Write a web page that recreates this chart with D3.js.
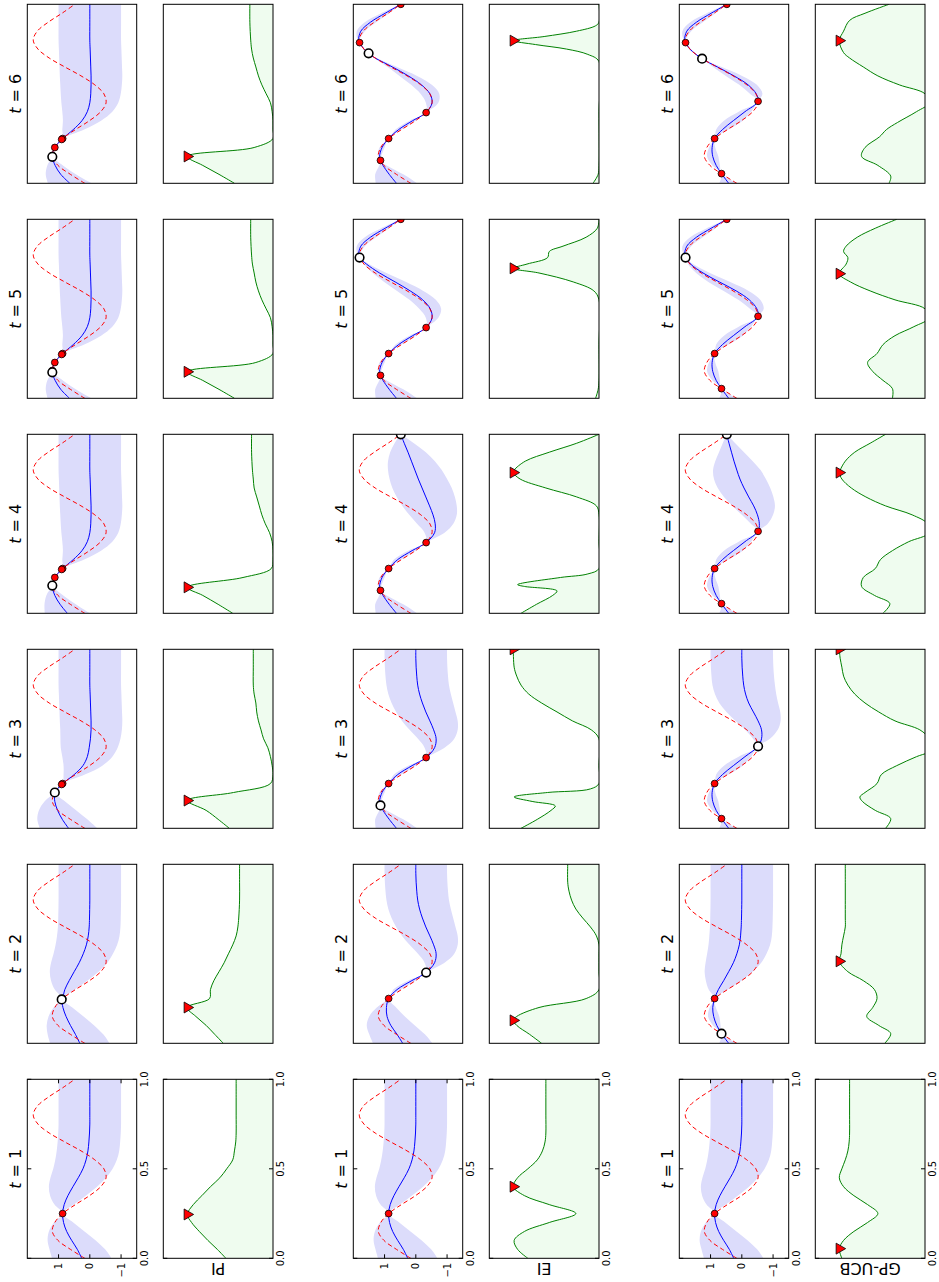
<!DOCTYPE html>
<html>
<head>
<meta charset="utf-8">
<script src="https://cdn.jsdelivr.net/npm/d3@7"></script>
<style>
  body { margin: 0; background: #fff; }
  svg { display: block; }
  text { font-family: "DejaVu Sans", sans-serif; fill: #000; }
</style>
</head>
<body>
<svg id="fig" width="939" height="1282"></svg>
<script>
// ---------------------------------------------------------------
// Bayesian optimisation of a 1-D objective: six iterations of
// three acquisition strategies (PI, EI, GP-UCB).
// ---------------------------------------------------------------

const steps = [1, 2, 3, 4, 5, 6];
const strategyNames = ["PI", "EI", "GP-UCB"];
const xTicks = [0, 0.5, 1];
const xTickLabels = ["0.0", "0.5", "1.0"];
const yTicks = [-1, 0, 1];
const yTickLabels = ["\u22121", "0", "1"];

// objective function sampled on a regular grid
const objX = [0, 0.05, 0.1, 0.15, 0.2, 0.25, 0.3, 0.35, 0.4, 0.45, 0.5,
              0.55, 0.6, 0.65, 0.7, 0.75, 0.8, 0.85, 0.9, 0.95, 1];
const objY = [0.16, 0.62, 1.02, 1.20, 1.12, 0.87, 0.46, 0.01, -0.35, -0.52, -0.45,
              -0.16, 0.28, 0.80, 1.30, 1.66, 1.81, 1.68, 1.33, 0.89, 0.48];

// observations, in the order they were taken
const piObsX  = [0.25, 0.245, 0.20, 0.155, 0.145, 0.148];
const piObsY  = [0.87, 0.90, 1.12, 1.20, 1.20, 1.20];
const eiObsX  = [0.25, 0.395, 0.128, 1.0, 0.786, 0.726];
const eiObsY  = [0.87, -0.33, 1.13, 0.48, 1.80, 1.51];
const ucbObsX = [0.25, 0.054, 0.458, 1.0, 0.786, 0.696];
const ucbObsY = [0.87, 0.65, -0.52, 0.48, 1.80, 1.27];

// maximiser of the acquisition function at each step
const piNext  = [0.245, 0.20, 0.155, 0.145, 0.148, 0.150];
const eiNext  = [0.40, 0.128, 1.0, 0.786, 0.726, 0.797];
const ucbNext = [0.054, 0.458, 1.0, 0.786, 0.696, 0.797];

// GP posterior: [x, mean, half-width of the confidence band]
const gpFirst = [[0,.26,.95],[.05,.40,.89],[.1,.58,.77],[.15,.74,.57],[.2,.84,.31],[.25,.87,0],
  [.3,.82,.31],[.35,.70,.57],[.4,.54,.77],[.45,.37,.89],[.5,.22,.95],[.55,.12,.985],[.6,.06,1],
  [.65,.03,1],[.7,.01,1],[.75,0,1],[.8,0,1],[.9,0,1],[1,0,1]];

const piGP = [
  gpFirst,
  [[0,.32,.95],[.05,.46,.89],[.1,.62,.76],[.15,.76,.56],[.2,.86,.3],[.245,.89,0],[.25,.87,0],
   [.3,.80,.32],[.35,.66,.58],[.4,.50,.78],[.45,.34,.9],[.5,.21,.95],[.55,.11,.985],[.6,.05,1],
   [.65,.02,1],[.7,.01,1],[.8,0,1],[.9,0,1],[1,0,1]],
  [[0,.68,.92],[.05,.88,.8],[.1,1.03,.6],[.15,1.12,.33],[.2,1.12,0],[.225,1.01,.02],[.25,.87,0],
   [.3,.50,.34],[.35,.22,.62],[.4,.08,.8],[.45,.02,.91],[.5,-.02,.96],[.55,-.04,.985],[.6,-.04,1],
   [.65,-.03,1],[.7,-.02,1],[.75,-.01,1],[.8,0,1],[.9,0,1],[1,0,1]],
  [[0,.72,.72],[.05,.95,.5],[.1,1.12,.27],[.155,1.20,0],[.2,1.12,0],[.225,1.01,.02],[.25,.87,0],
   [.3,.53,.35],[.35,.25,.61],[.4,.08,.8],[.45,0,.91],[.5,-.03,.96],[.55,-.04,.985],[.6,-.04,1],
   [.65,-.03,1],[.7,-.02,1],[.75,-.01,1],[.8,0,1],[.9,0,1],[1,0,1]],
  [[0,.65,.70],[.05,.93,.48],[.1,1.11,.25],[.145,1.20,0],[.175,1.18,.01],[.2,1.12,0],[.225,1.01,.02],
   [.25,.87,0],[.3,.53,.35],[.35,.25,.61],[.4,.08,.8],[.45,0,.91],[.5,-.03,.96],[.55,-.04,.985],
   [.6,-.04,1],[.65,-.03,1],[.7,-.02,1],[.75,-.01,1],[.8,0,1],[.9,0,1],[1,0,1]],
  [[0,.64,.70],[.05,.93,.48],[.1,1.11,.25],[.148,1.20,0],[.175,1.18,.01],[.2,1.12,0],[.225,1.01,.02],
   [.25,.87,0],[.3,.53,.35],[.35,.25,.61],[.4,.08,.8],[.45,0,.91],[.5,-.03,.96],[.55,-.04,.985],
   [.6,-.04,1],[.65,-.03,1],[.7,-.02,1],[.75,-.01,1],[.8,0,1],[.9,0,1],[1,0,1]]
];

const eiGP = [
  gpFirst,
  [[0,.42,.95],[.05,.60,.89],[.1,.80,.77],[.15,.92,.57],[.2,.94,.31],[.25,.87,0],[.3,.60,.12],
   [.35,.13,.12],[.395,-.33,0],[.45,-.60,.32],[.5,-.65,.58],[.55,-.57,.77],[.6,-.45,.89],
   [.65,-.32,.95],[.7,-.21,.985],[.75,-.12,1],[.8,-.06,1],[.85,-.03,1],[.9,-.01,1],[.95,0,1],[1,0,1]],
  [[0,.62,.66],[.05,.85,.45],[.1,1.05,.12],[.128,1.13,0],[.15,1.16,.05],[.2,1.08,.08],[.25,.87,0],
   [.3,.58,.12],[.35,.12,.12],[.395,-.33,0],[.45,-.60,.32],[.5,-.65,.58],[.55,-.57,.77],[.6,-.45,.89],
   [.65,-.32,.95],[.7,-.21,.985],[.75,-.12,1],[.8,-.06,1],[.85,-.03,1],[.9,-.01,1],[.95,0,1],[1,0,1]],
  [[0,.62,.66],[.05,.85,.45],[.1,1.05,.12],[.128,1.13,0],[.15,1.16,.05],[.2,1.08,.08],[.25,.87,0],
   [.3,.58,.12],[.35,.12,.12],[.395,-.33,0],[.45,-.60,.32],[.5,-.62,.58],[.55,-.55,.76],[.6,-.44,.87],
   [.65,-.32,.93],[.7,-.2,.95],[.75,-.08,.92],[.8,.03,.86],[.85,.14,.75],[.9,.25,.57],[.95,.37,.31],[1,.48,0]],
  [[0,.62,.66],[.05,.85,.45],[.1,1.05,.12],[.128,1.13,0],[.15,1.16,.05],[.2,1.08,.08],[.25,.87,0],
   [.3,.55,.1],[.35,.10,.1],[.395,-.33,0],[.45,-.52,.2],[.5,-.46,.35],[.55,-.22,.42],[.6,.18,.42],
   [.65,.66,.35],[.7,1.16,.22],[.75,1.58,.08],[.786,1.80,0],[.8,1.83,.03],[.85,1.76,.13],
   [.9,1.45,.18],[.95,.98,.13],[1,.48,0]],
  [[0,.62,.66],[.05,.85,.45],[.1,1.05,.12],[.128,1.13,0],[.15,1.16,.05],[.2,1.08,.08],[.25,.87,0],
   [.3,.55,.1],[.35,.10,.1],[.395,-.33,0],[.45,-.52,.2],[.5,-.45,.3],[.55,-.18,.33],[.6,.24,.28],
   [.65,.75,.15],[.7,1.30,.04],[.726,1.51,0],[.75,1.66,.03],[.786,1.80,0],[.8,1.83,.03],[.85,1.76,.13],
   [.9,1.45,.18],[.95,.98,.13],[1,.48,0]]
];

const ucbGP = [
  gpFirst,
  [[0,.42,.3],[.054,.65,0],[.1,.80,.12],[.15,.90,.18],[.2,.93,.1],[.25,.87,0],[.3,.75,.31],
   [.35,.58,.57],[.4,.42,.77],[.45,.27,.89],[.5,.16,.95],[.55,.08,.985],[.6,.04,1],[.65,.02,1],
   [.7,.01,1],[.8,0,1],[.9,0,1],[1,0,1]],
  [[0,.42,.3],[.054,.65,0],[.1,.82,.12],[.15,.93,.18],[.2,.95,.1],[.25,.87,0],[.3,.62,.2],
   [.35,.27,.3],[.4,-.1,.2],[.458,-.52,0],[.5,-.63,.27],[.55,-.63,.52],[.6,-.52,.72],[.65,-.37,.86],
   [.7,-.22,.94],[.75,-.12,.98],[.8,-.06,1],[.85,-.03,1],[.9,-.01,1],[.95,0,1],[1,0,1]],
  [[0,.42,.3],[.054,.65,0],[.1,.82,.12],[.15,.93,.18],[.2,.95,.1],[.25,.87,0],[.3,.62,.2],
   [.35,.27,.3],[.4,-.1,.2],[.458,-.52,0],[.5,-.56,.27],[.55,-.5,.5],[.6,-.38,.68],[.65,-.22,.79],
   [.7,-.07,.84],[.75,.06,.83],[.8,.16,.76],[.85,.25,.6],[.9,.33,.4],[.95,.41,.2],[1,.48,0]],
  [[0,.42,.3],[.054,.65,0],[.1,.82,.12],[.15,.93,.18],[.2,.95,.1],[.25,.87,0],[.3,.62,.2],
   [.35,.27,.3],[.4,-.1,.2],[.458,-.52,0],[.5,-.48,.22],[.55,-.24,.35],[.6,.18,.4],[.65,.72,.35],
   [.7,1.24,.22],[.75,1.64,.08],[.786,1.80,0],[.8,1.83,.03],[.85,1.76,.14],[.9,1.45,.2],
   [.95,.98,.14],[1,.48,0]],
  [[0,.42,.3],[.054,.65,0],[.1,.82,.12],[.15,.93,.18],[.2,.95,.1],[.25,.87,0],[.3,.62,.2],
   [.35,.27,.3],[.4,-.1,.2],[.458,-.52,0],[.5,-.46,.2],[.55,-.2,.28],[.6,.25,.26],[.65,.78,.14],
   [.696,1.27,0],[.75,1.66,.04],[.786,1.80,0],[.8,1.83,.03],[.85,1.76,.14],[.9,1.45,.2],
   [.95,.98,.14],[1,.48,0]]
];

// acquisition functions, scaled so that the maximum is 1: [x, value]
const piAcq = [
  [[0,.55],[.05,.65],[.1,.76],[.15,.86],[.2,.95],[.245,1],[.3,.93],[.35,.83],[.4,.73],[.45,.62],
   [.5,.54],[.55,.47],[.6,.45],[.65,.435],[.7,.43],[.8,.43],[.9,.43],[1,.43]],
  [[0,.58],[.05,.68],[.1,.78],[.15,.90],[.2,1],[.25,.74],[.3,.73],[.35,.69],[.4,.63],[.45,.57],
   [.5,.52],[.55,.47],[.6,.43],[.65,.41],[.7,.40],[.8,.39],[.9,.39],[1,.39]],
  [[0,.51],[.05,.64],[.1,.78],[.155,1],[.2,.46],[.25,.03],[.3,0],[.35,.01],[.4,.03],[.45,.06],
   [.5,.11],[.55,.14],[.6,.17],[.65,.19],[.7,.20],[.75,.22],[.8,.23],[.9,.23],[1,.23]],
  [[0,.47],[.05,.64],[.1,.82],[.145,1],[.2,.35],[.25,.02],[.3,0],[.35,0],[.4,.01],[.45,.04],
   [.5,.09],[.55,.13],[.6,.16],[.65,.19],[.7,.22],[.75,.23],[.8,.24],[.9,.25],[1,.25]],
  [[0,.45],[.05,.63],[.1,.82],[.148,1],[.2,.2],[.25,0],[.3,0],[.35,0],[.4,.01],[.45,.03],
   [.5,.08],[.55,.13],[.6,.17],[.65,.20],[.7,.22],[.75,.24],[.8,.25],[.9,.26],[1,.26]],
  [[0,.45],[.05,.63],[.1,.82],[.15,1],[.2,.22],[.25,0],[.3,0],[.35,0],[.4,.01],[.45,.03],
   [.5,.08],[.55,.13],[.6,.17],[.65,.20],[.7,.23],[.75,.25],[.8,.26],[.9,.27],[1,.27]]
];

const eiAcq = [
  [[0,.83],[.05,.95],[.1,.99],[.15,.87],[.2,.58],[.25,.27],[.3,.58],[.35,.87],[.4,1],[.45,.95],
   [.5,.83],[.55,.72],[.6,.66],[.65,.63],[.7,.62],[.8,.62],[.9,.62],[1,.62]],
  [[0,.67],[.05,.81],[.1,.96],[.128,1],[.15,.96],[.2,.70],[.25,.15],[.3,0],[.4,0],[.5,0],[.55,0],
   [.6,.03],[.65,.10],[.7,.19],[.75,.27],[.8,.32],[.85,.35],[.9,.365],[1,.365]],
  [[0,.91],[.05,.72],[.1,.56],[.125,.51],[.15,.78],[.175,.99],[.2,.6],[.22,.1],[.25,0],[.35,0],
   [.5,0],[.55,.09],[.6,.31],[.65,.49],[.7,.67],[.75,.82],[.8,.91],[.85,.96],[.9,.99],[1,1]],
  [[0,.91],[.05,.73],[.1,.54],[.125,.49],[.15,.87],[.16,.95],[.2,.45],[.22,.13],[.25,0],[.4,0],
   [.55,0],[.6,.03],[.65,.26],[.7,.62],[.75,.92],[.786,1],[.8,.99],[.85,.86],[.9,.58],[.95,.26],[1,0]],
  [[0,.04],[.05,.01],[.1,0],[.3,0],[.55,0],[.6,.06],[.65,.3],[.7,.7],[.726,1],[.75,.84],[.786,.6],
   [.82,.58],[.85,.42],[.9,.15],[.95,.02],[1,0]],
  [[0,.07],[.05,.01],[.1,0],[.4,0],[.68,0],[.72,.13],[.75,.38],[.775,.74],[.797,1],[.82,.64],
   [.85,.26],[.88,.04],[.9,0],[1,0]]
];

const ucbAcq = [
  [[0,.97],[.054,1],[.1,.95],[.15,.83],[.2,.67],[.25,.55],[.3,.67],[.35,.83],[.4,.95],[.45,1],
   [.5,.97],[.55,.93],[.6,.9],[.65,.885],[.7,.88],[.8,.88],[.9,.88],[1,.88]],
  [[0,.47],[.054,.40],[.1,.54],[.15,.68],[.2,.61],[.25,.56],[.3,.59],[.35,.72],[.4,.90],[.458,1],
   [.5,.98],[.55,.97],[.6,.95],[.65,.93],[.7,.93],[.8,.93],[.9,.93],[1,.93]],
  [[0,.46],[.054,.40],[.1,.58],[.15,.73],[.175,.76],[.2,.70],[.25,.56],[.3,.51],[.35,.33],[.4,.10],
   [.45,-.15],[.5,-.06],[.55,.06],[.6,.35],[.65,.54],[.7,.70],[.75,.82],[.8,.90],[.85,.95],[.9,.97],
   [.95,.99],[1,1]],
  [[0,.49],[.054,.41],[.1,.59],[.15,.74],[.2,.72],[.25,.58],[.3,.52],[.35,.38],[.4,.19],[.45,-.05],
   [.5,-.03],[.55,.15],[.6,.46],[.65,.69],[.7,.86],[.75,.97],[.786,1],[.8,.99],[.85,.93],[.9,.82],
   [.95,.64],[1,.46]],
  [[0,.38],[.054,.38],[.1,.49],[.15,.61],[.2,.67],[.25,.56],[.3,.49],[.35,.35],[.4,.13],[.45,-.05],
   [.5,0],[.55,.35],[.6,.64],[.65,.87],[.696,1],[.75,.92],[.786,.90],[.82,.95],[.85,.92],[.9,.79],
   [.95,.58],[1,.33]],
  [[0,.42],[.04,.40],[.1,.55],[.15,.74],[.2,.70],[.26,.53],[.3,.45],[.34,.32],[.4,.1],[.45,-.05],
   [.5,0],[.55,.3],[.6,.55],[.65,.72],[.7,.88],[.73,.95],[.797,1],[.85,.95],[.91,.88],[.95,.7],[1,.42]]
];

// ---------------------------------------------------------------
// layout (figure is composed in landscape and turned a quarter)
// ---------------------------------------------------------------
const FIG_W = 1282;
const colLeft = t => 23.7 + (t - 1) * 215;
const colWidth = 179;
const rowTop = { gp: 27.3, acq: 163.3 };
const rowStride = 326;
const panelH = { gp: 109.4, acq: 109.7 };
const tickFont = 10;

const svg = d3.select("#fig");
const fig = svg.append("g").attr("transform", `translate(0,${FIG_W}) rotate(-90)`);
const defs = svg.append("defs");

const strategies = [
  { name: strategyNames[0], gp: piGP,  acq: piAcq,  obsX: piObsX,  obsY: piObsY,  next: piNext },
  { name: strategyNames[1], gp: eiGP,  acq: eiAcq,  obsX: eiObsX,  obsY: eiObsY,  next: eiNext },
  { name: strategyNames[2], gp: ucbGP, acq: ucbAcq, obsX: ucbObsX, obsY: ucbObsY, next: ucbNext }
];

const xScale = d3.scaleLinear().domain([0, 1]).range([0, colWidth]);
const yGP = d3.scaleLinear().domain([-1.5, 2.0]).range([panelH.gp, 0]);
const yAcq = d3.scaleLinear().domain([0, 1.28]).range([panelH.acq, 0]);
const smooth = d3.curveCatmullRom.alpha(0.5);

let clipId = 0;
function makePanel(x0, y0, h) {
  const id = "clip" + (clipId++);
  defs.append("clipPath").attr("id", id)
    .append("rect").attr("width", colWidth).attr("height", h);
  const g = fig.append("g").attr("transform", `translate(${x0},${y0})`);
  const inner = g.append("g").attr("clip-path", `url(#${id})`);
  return { g, inner };
}

function frame(g, h) {
  g.append("rect").attr("width", colWidth).attr("height", h)
    .attr("fill", "none").attr("stroke", "#000").attr("stroke-width", 1);
}

function xAxisTicks(g, h) {
  xTicks.forEach((v, k) => {
    const px = xScale(v);
    g.append("line").attr("x1", px).attr("x2", px).attr("y1", h).attr("y2", h - 4)
      .attr("stroke", "#000").attr("stroke-width", 1);
    g.append("line").attr("x1", px).attr("x2", px).attr("y1", 0).attr("y2", 4)
      .attr("stroke", "#000").attr("stroke-width", 1);
    g.append("text").attr("x", px).attr("y", h + 11.5).attr("text-anchor", "middle")
      .attr("font-size", tickFont).text(xTickLabels[k]);
  });
}

function yAxisTicks(g) {
  yTicks.forEach((v, k) => {
    const py = yGP(v);
    g.append("line").attr("x1", 0).attr("x2", 4).attr("y1", py).attr("y2", py)
      .attr("stroke", "#000").attr("stroke-width", 1);
    g.append("line").attr("x1", colWidth).attr("x2", colWidth - 4).attr("y1", py).attr("y2", py)
      .attr("stroke", "#000").attr("stroke-width", 1);
    g.append("text").attr("x", -4.5).attr("y", py + 3.6).attr("text-anchor", "end")
      .attr("font-size", tickFont).text(yTickLabels[k]);
  });
}

const objective = objX.map((x, k) => [x, objY[k]]);

strategies.forEach((s, m) => {
  steps.forEach((t, i) => {
    const x0 = colLeft(t);

    // ---- GP posterior panel ----
    const gpTop = rowTop.gp + m * rowStride;
    const P = makePanel(x0, gpTop, panelH.gp);
    const post = s.gp[i];

    P.inner.append("path").datum(post)
      .attr("fill", "#dcdcfb")
      .attr("d", d3.area().curve(smooth)
        .x(d => xScale(d[0])).y0(d => yGP(d[1] - d[2])).y1(d => yGP(d[1] + d[2])));

    P.inner.append("path").datum(post)
      .attr("fill", "none").attr("stroke", "#0000ff").attr("stroke-width", 1)
      .attr("d", d3.line().curve(smooth).x(d => xScale(d[0])).y(d => yGP(d[1])));

    P.inner.append("path").datum(objective)
      .attr("fill", "none").attr("stroke", "#ff0000").attr("stroke-width", 1)
      .attr("stroke-dasharray", "4.5,3")
      .attr("d", d3.line().curve(smooth).x(d => xScale(d[0])).y(d => yGP(d[1])));

    const seen = d3.range(t).map(j => ({ x: s.obsX[j], y: s.obsY[j], latest: t > 1 && j === t - 1 }));
    P.inner.selectAll("circle.obs").data(seen.filter(d => !d.latest)).enter()
      .append("circle")
      .attr("cx", d => xScale(d.x)).attr("cy", d => yGP(d.y)).attr("r", 3.4)
      .attr("fill", "#ff0000").attr("stroke", "#000").attr("stroke-width", 0.8);
    P.inner.selectAll("circle.new").data(seen.filter(d => d.latest)).enter()
      .append("circle")
      .attr("cx", d => xScale(d.x)).attr("cy", d => yGP(d.y)).attr("r", 4.3)
      .attr("fill", "#fff").attr("stroke", "#000").attr("stroke-width", 1.6);

    frame(P.g, panelH.gp);
    P.g.append("text").attr("x", colWidth / 2).attr("y", -6).attr("text-anchor", "middle")
      .attr("font-size", 16)
      .call(tx => {
        tx.append("tspan").attr("font-style", "italic").text("t");
        tx.append("tspan").text(" = " + t);
      });
    if (i === 0) { xAxisTicks(P.g, panelH.gp); yAxisTicks(P.g); }

    // ---- acquisition panel ----
    const acqTop = rowTop.acq + m * rowStride;
    const A = makePanel(x0, acqTop, panelH.acq);
    const acq = s.acq[i];

    A.inner.append("path").datum(acq)
      .attr("fill", "#effcef")
      .attr("d", d3.area().curve(smooth)
        .x(d => xScale(d[0])).y0(yAcq(0)).y1(d => yAcq(d[1])));
    A.inner.append("path").datum(acq)
      .attr("fill", "none").attr("stroke", "#008000").attr("stroke-width", 1)
      .attr("d", d3.line().curve(smooth).x(d => xScale(d[0])).y(d => yAcq(d[1])));

    const peak = d3.max(acq, d => d[1]);
    const tri = d3.symbol().type(d3.symbolTriangle).size(52);
    A.inner.append("path")
      .attr("d", tri())
      .attr("transform", `translate(${xScale(s.next[i])},${yAcq(peak)}) rotate(180)`)
      .attr("fill", "#ff0000").attr("stroke", "#000").attr("stroke-width", 0.8);

    frame(A.g, panelH.acq);
    if (i === 0) {
      xAxisTicks(A.g, panelH.acq);
      A.g.append("text")
        .attr("transform", `translate(-5,${panelH.acq / 2}) rotate(-90)`)
        .attr("text-anchor", "middle").attr("font-size", 16).text(s.name);
    }
  });
});
</script>
</body>
</html>
